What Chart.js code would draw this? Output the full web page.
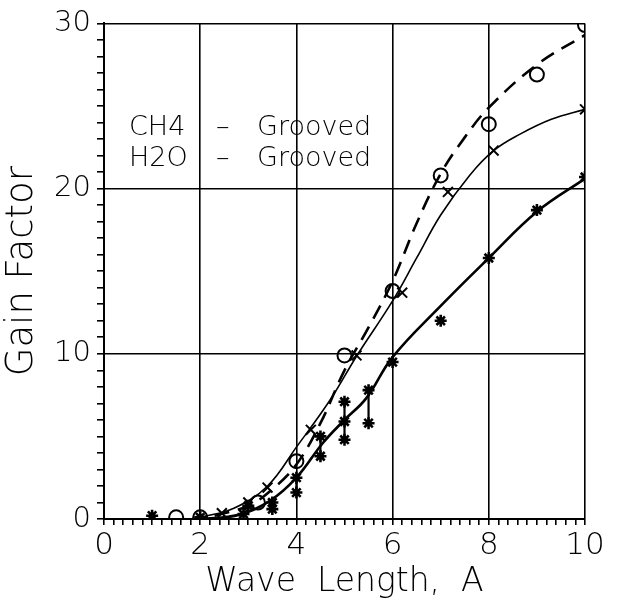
<!DOCTYPE html>
<html>
<head>
<meta charset="utf-8">
<script src="https://cdn.jsdelivr.net/npm/chart.js@4/dist/chart.umd.min.js"></script>
<style>
  html, body { margin: 0; padding: 0; background: #fff; }
  #wrap { width: 621px; height: 602px; position: relative; }
</style>
</head>
<body>
<div id="wrap"><canvas id="gain-chart" width="621" height="602"></canvas></div>
<script>
// CH4 grooved - open circles, dashed fit
const circleX = [1.5, 2, 3.2, 4, 5, 6, 7, 8, 9, 10];
const circleY = [0.1, 0.1, 1.0, 3.5, 9.9, 13.8, 20.8, 23.9, 26.9, 29.9];
const dashedX = [2.3, 3, 3.5, 4, 4.5, 5, 5.5, 6, 6.5, 7, 7.5, 8, 9, 10];
const dashedY = [0.2, 0.8, 1.8, 3.3, 5.8, 9.0, 11.6, 14.4, 17.9, 20.9, 23.1, 24.9, 27.5, 29.3];

// crosses - thin solid fit
const crossX = [2.45, 3.0, 3.4, 4.3, 5.25, 6.2, 7.15, 8.1, 10];
const crossY = [0.35, 1.0, 1.9, 5.4, 9.9, 13.7, 19.8, 22.3, 24.8];
const thinX = [2, 2.7, 3.4, 4, 4.7, 5.26, 6, 6.5, 7, 7.6, 8.1, 8.65, 9.3, 10];
const thinY = [0.1, 0.65, 2.0, 4.35, 7.2, 9.9, 13.2, 15.8, 18.4, 20.8, 22.3, 23.3, 24.2, 24.8];

// H2O grooved - stars, thick solid fit
const starX = [1, 2, 2.9, 3, 3.5, 3.5, 4, 4, 4.5, 4.5, 5, 5, 5, 5.5, 5.5, 6, 7, 8, 9, 10];
const starY = [0.2, 0.1, 0.3, 0.8, 1.0, 0.6, 2.5, 1.6, 5.0, 3.8, 7.1, 5.9, 4.8, 7.8, 5.8, 9.5, 12.0, 15.8, 18.7, 20.7];
const thickX = [2, 2.8, 3.45, 4, 4.55, 5, 5.45, 6, 7, 8, 9, 10];
const thickY = [0, 0.25, 1.1, 2.5, 4.6, 6.0, 7.3, 9.8, 12.9, 15.8, 18.6, 20.6];

// vertical scatter bars under the stars
const barX = [3.5, 4, 4.5, 5, 5.5];
const barLo = [0.6, 1.6, 3.7, 4.8, 5.8];
const barHi = [1.3, 2.6, 5.1, 7.2, 7.8];

const xTickLabels = [0, 2, 4, 6, 8, 10];
const yTickLabels = [0, 10, 20, 30];
const legendLines = ['CH4', 'H2O'];

const FONT = "'DejaVu Sans', sans-serif";

function pts(xs, ys) {
    return xs.map((x, i) => ({ x: x, y: ys[i] }));
}

function barPoints() {
    const out = [];
    barX.forEach((x, i) => {
        out.push({ x: x, y: barLo[i] });
        out.push({ x: x, y: barHi[i] });
        out.push({ x: x, y: null });
    });
    return out;
}

function isLabelled(v, list) {
    return list.some(t => Math.abs(v - t) < 1e-6);
}

// the little key text inside the plot
const keyText = {
    id: 'keyText',
    afterDatasetsDraw(chart) {
        const ctx = chart.ctx;
        ctx.save();
        ctx.fillStyle = '#000';
        ctx.font = '300 27px ' + FONT;
        ctx.textBaseline = 'alphabetic';
        const rows = [135, 166];
        legendLines.forEach((name, i) => {
            ctx.textAlign = 'left';
            ctx.fillText(name, 129, rows[i]);
            ctx.fillText('\u2013', 216, rows[i]);
            ctx.fillText('Grooved', 257, rows[i]);
        });
        ctx.restore();
    }
};

const ctx = document.querySelector('#gain-chart').getContext('2d');

new Chart(ctx, {
    type: 'scatter',
    data: {
        datasets: [
            {
                data: pts(dashedX, dashedY), showLine: true, borderColor: '#000',
                borderWidth: 2.6, borderDash: [15, 9], pointRadius: 0, tension: 0.4
            },
            {
                data: pts(thinX, thinY), showLine: true, borderColor: '#000',
                borderWidth: 1.6, pointRadius: 0, tension: 0.4
            },
            {
                data: pts(thickX, thickY), showLine: true, borderColor: '#000',
                borderWidth: 2.6, pointRadius: 0, tension: 0.4
            },
            {
                data: barPoints(), showLine: true, spanGaps: false, borderColor: '#000',
                borderWidth: 2.2, pointRadius: 0
            },
            {
                data: pts(circleX, circleY), pointStyle: 'circle', pointRadius: 7,
                borderColor: '#000', backgroundColor: 'rgba(0,0,0,0)', borderWidth: 2
            },
            {
                data: pts(crossX, crossY), pointStyle: 'crossRot', pointRadius: 7,
                borderColor: '#000', borderWidth: 2
            },
            {
                data: pts(starX, starY), pointStyle: 'star', pointRadius: 6,
                borderColor: '#000', borderWidth: 2.6
            }
        ]
    },
    options: {
        responsive: false,
        animation: false,
        events: [],
        layout: { padding: { top: 21, right: 36, left: 0, bottom: 0 } },
        plugins: { legend: { display: false }, tooltip: { enabled: false } },
        scales: {
            x: {
                type: 'linear', min: 0, max: 10,
                afterFit: s => { s.height = 83; },
                afterBuildTicks: s => {
                    s.ticks = [];
                    for (let k = 0; k <= 50; k++) s.ticks.push({ value: k / 5 });
                },
                ticks: {
                    autoSkip: false, maxRotation: 0, color: '#000', padding: 2,
                    font: { family: FONT, size: 31, weight: 300 },
                    callback: v => isLabelled(v, xTickLabels) ? String(Math.round(v)) : ''
                },
                grid: {
                    color: c => isLabelled(c.tick.value, xTickLabels) ? '#000' : 'rgba(0,0,0,0)',
                    tickColor: '#000', tickLength: 6, lineWidth: 1.6
                },
                border: { color: '#000', width: 2 },
                title: {
                    display: true, text: 'Wave  Length,  A', color: '#000', padding: 0,
                    font: { family: FONT, size: 33, weight: 300 }
                }
            },
            y: {
                type: 'linear', min: 0, max: 30,
                afterFit: s => { s.width = 104; },
                afterBuildTicks: s => {
                    s.ticks = [];
                    for (let k = 0; k <= 30; k++) s.ticks.push({ value: k });
                },
                ticks: {
                    autoSkip: false, color: '#000', padding: 6,
                    font: { family: FONT, size: 29, weight: 300 },
                    callback: v => isLabelled(v, yTickLabels) ? String(v) : ''
                },
                grid: {
                    color: c => isLabelled(c.tick.value, yTickLabels) ? '#000' : 'rgba(0,0,0,0)',
                    tickColor: '#000', tickLength: 7, lineWidth: 1.6
                },
                border: { color: '#000', width: 2 },
                title: {
                    display: true, text: 'Gain Factor', color: '#000', padding: 0,
                    font: { family: FONT, size: 37, weight: 300 }
                }
            }
        }
    },
    plugins: [keyText]
});
</script>
</body>
</html>
